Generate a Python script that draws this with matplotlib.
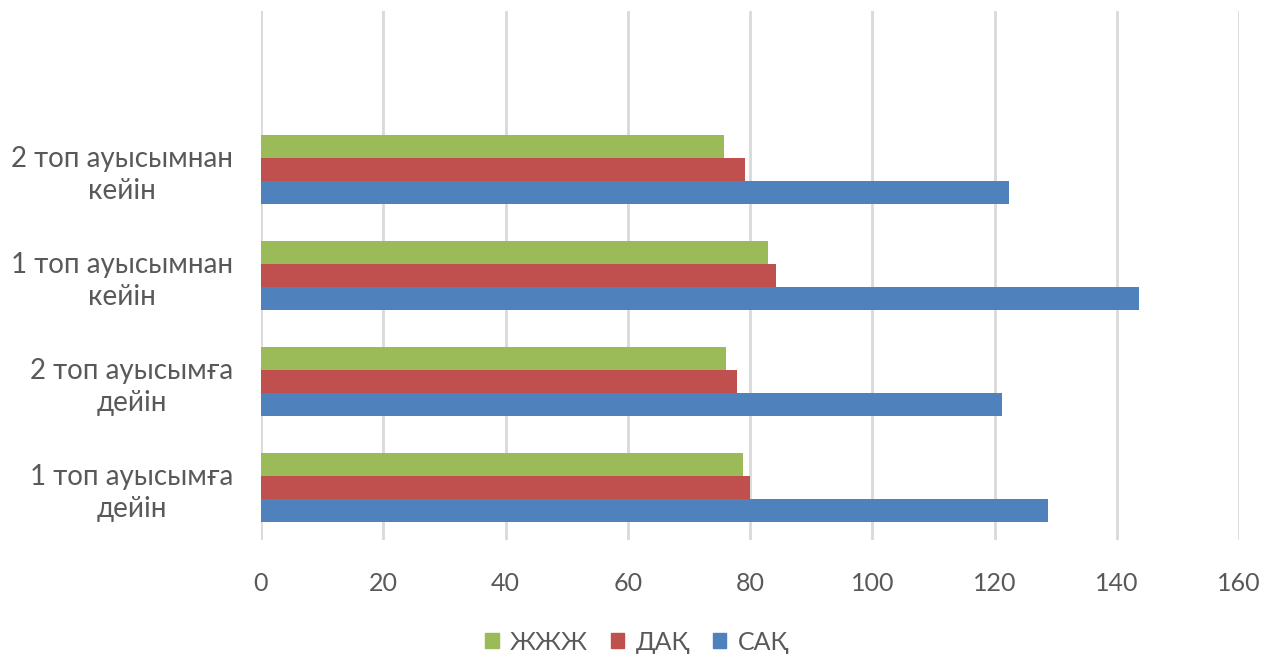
import numpy as np
import matplotlib.pyplot as plt
from matplotlib.patches import Patch

categories = ["1 топ ауысымға\nдейін", "2 топ ауысымға\nдейін",
              "1 топ ауысымнан\nкейін", "2 топ ауысымнан\nкейін", ""]
sak = [128.7, 121.2, 143.7, 122.3]
dak = [80.0, 77.8, 84.2, 79.2]
zhzh = [78.9, 76.0, 82.9, 75.8]
series_names = ["ЖЖЖ", "ДАҚ", "САҚ"]
colors = {"ЖЖЖ": "#9BBB59", "ДАҚ": "#C0504D", "САҚ": "#4F81BD"}

plt.rcParams['font.family'] = ['Lato', 'DejaVu Sans']

fig = plt.figure(figsize=(12.74, 6.61), dpi=100)
ax = fig.add_axes([261 / 1274, 121 / 661, 978 / 1274, 529 / 661])

y = np.arange(len(sak))
h = 0.218
ax.barh(y - h, sak, height=h, color=colors["САҚ"], zorder=3)
ax.barh(y, dak, height=h, color=colors["ДАҚ"], zorder=3)
ax.barh(y + h, zhzh, height=h, color=colors["ЖЖЖ"], zorder=3)

ax.set_xlim(0, 160)
ax.set_xticks(np.arange(0, 161, 20))
ax.set_ylim(-0.5, 4.5)
ax.set_yticks(np.arange(len(categories)))
ax.set_yticklabels(categories, multialignment='center', linespacing=1.3,
                   fontsize=20, color='#595959')

for s in ax.spines.values():
    s.set_visible(False)
ax.grid(axis='x', color='#D9D9D9', linewidth=2, zorder=0)
ax.tick_params(axis='both', length=0, labelcolor='#595959')
ax.tick_params(axis='x', labelsize=18, pad=23)
ax.tick_params(axis='y', pad=20)

handles = [Patch(color=colors[n]) for n in series_names]
fig.legend(handles, series_names, loc='center', bbox_to_anchor=(0.5, 19 / 661),
           ncol=3, frameon=False, fontsize=18, labelcolor='#595959',
           handlelength=0.55, handleheight=0.55, handletextpad=0.45,
           columnspacing=0.9)

fig.savefig("out.png", dpi=100)
